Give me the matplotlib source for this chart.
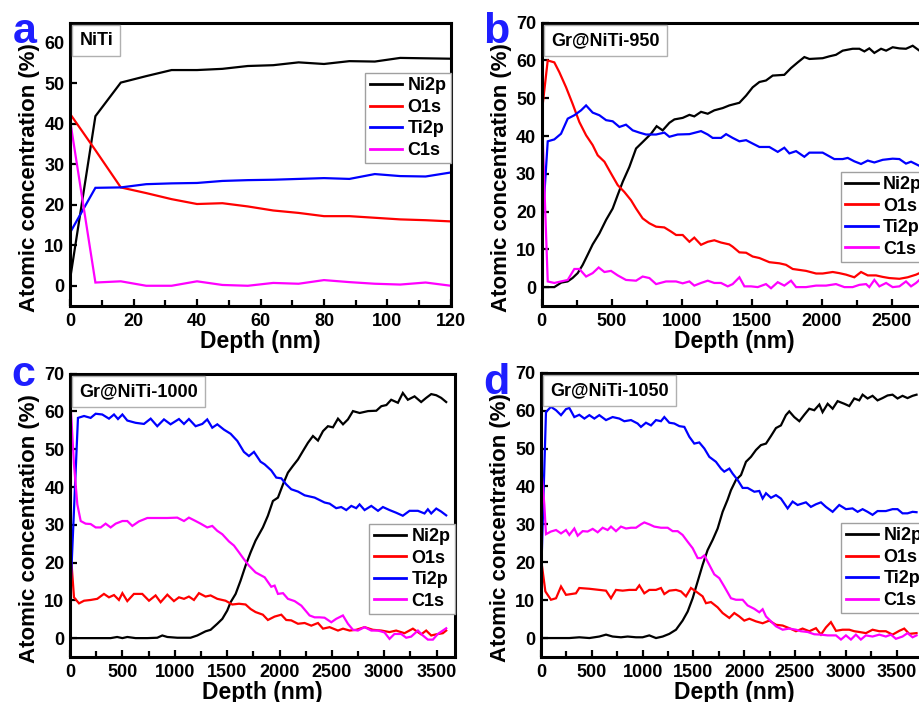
import matplotlib
matplotlib.use('Agg')
import matplotlib.pyplot as plt
from matplotlib.offsetbox import AnchoredText
from matplotlib.ticker import MultipleLocator

plt.rcParams['font.family'] = ['Liberation Sans', 'DejaVu Sans']
plt.rcParams['font.weight'] = 'bold'
plt.rcParams['axes.labelweight'] = 'bold'

series_names = ['Ni2p', 'O1s', 'Ti2p', 'C1s']
series_colors = ['#000000', '#ff0000', '#0000ff', '#ff00ff']

# ---------------- panel a : NiTi ----------------
a_depth = [0, 8, 16, 24, 32, 40, 48, 56, 64, 72, 80, 88, 96, 104, 112, 120]
a_ni = [1.5, 41.9, 50.2, 51.8, 53.3, 53.3, 53.6, 54.3, 54.5, 55.2, 54.8, 55.5, 55.4, 56.3, 56.2, 56.1]
a_o = [42.5, 33.5, 24.3, 22.9, 21.4, 20.2, 20.4, 19.6, 18.6, 18.0, 17.2, 17.2, 16.8, 16.4, 16.2, 15.9]
a_ti = [13.1, 24.2, 24.3, 25.1, 25.3, 25.4, 25.9, 26.1, 26.2, 26.4, 26.6, 26.4, 27.6, 27.1, 27.0, 28.0]
a_c = [41.0, 0.8, 1.1, 0.0, 0.0, 1.1, 0.2, 0.0, 0.7, 0.5, 1.4, 0.9, 0.5, 0.3, 0.8, 0.0]

# ---------------- panel b : Gr@NiTi-950 ----------------
b_ni_x = [0, 90, 140, 185, 220, 257, 293, 330, 364, 412, 460, 507, 543, 579, 626, 674, 721, 781, 821, 864,
          912, 948, 1007, 1055, 1090, 1138, 1186, 1233, 1293, 1340, 1412, 1460, 1507, 1555, 1602, 1650, 1733,
          1781, 1829, 1876, 1912, 2007, 2055, 2102, 2150, 2221, 2269, 2305, 2340, 2376, 2424, 2460, 2507,
          2555, 2602, 2650, 2698]
b_ni_y = [0, 0, 1.2, 1.5, 2.4, 3.7, 5.9, 8.7, 11.3, 14.2, 17.8, 20.8, 24.4, 27.9, 31.8, 36.7, 38.4, 40.6, 42.6,
          41.5, 43.5, 44.4, 44.8, 45.6, 45.2, 46.4, 45.9, 46.8, 47.4, 48.1, 48.8, 50.7, 52.9, 54.3, 54.7, 56.0,
          56.2, 58.0, 59.5, 60.9, 60.4, 60.6, 61.1, 61.5, 62.6, 63.1, 63.1, 62.4, 63.2, 62.0, 63.1, 62.6, 63.5,
          63.2, 63.1, 63.9, 62.6]
b_o_x = [0, 43, 90, 126, 174, 221, 269, 317, 364, 400, 448, 495, 543, 590, 638, 674, 721, 769, 817, 876, 924,
         960, 1007, 1055, 1090, 1138, 1186, 1233, 1281, 1340, 1364, 1412, 1460, 1507, 1555, 1626, 1698, 1745,
         1793, 1888, 1960, 2007, 2079, 2126, 2174, 2233, 2281, 2329, 2388, 2436, 2483, 2555, 2614, 2674, 2698]
b_o_y = [46, 60, 59.5, 56.9, 52.9, 48.5, 43.7, 40.2, 37.6, 34.9, 33.2, 30.1, 27.0, 25.2, 23.0, 20.8, 18.2, 16.9,
         16.0, 15.8, 14.7, 13.8, 13.8, 12.0, 13.1, 11.2, 12.0, 12.4, 11.8, 11.3, 10.7, 9.2, 9.1, 8.1, 7.7, 6.6,
         6.3, 5.9, 4.8, 4.3, 3.6, 3.6, 4.0, 3.7, 3.3, 2.6, 4.0, 3.1, 3.1, 2.7, 2.4, 2.2, 2.6, 3.3, 3.7]
b_ti_x = [0, 43, 90, 138, 186, 233, 281, 317, 364, 412, 460, 507, 555, 602, 650, 698, 745, 817, 876, 912, 971,
          1055, 1138, 1186, 1221, 1281, 1317, 1364, 1412, 1460, 1507, 1555, 1626, 1686, 1733, 1769, 1817, 1876,
          1912, 2007, 2090, 2150, 2186, 2233, 2281, 2329, 2376, 2436, 2507, 2555, 2602, 2638, 2698]
b_ti_y = [13.4, 38.6, 39.1, 40.6, 44.6, 45.5, 46.8, 48.1, 46.2, 45.5, 44.2, 43.9, 42.4, 43.0, 41.5, 40.9, 40.4,
          40.4, 40.9, 39.8, 40.4, 40.5, 41.3, 40.4, 39.5, 39.5, 40.5, 39.5, 38.6, 38.9, 38.0, 37.1, 37.1, 35.8,
          36.9, 35.4, 36.0, 34.5, 35.6, 35.6, 33.9, 33.9, 34.2, 33.3, 32.6, 33.5, 33.0, 33.7, 34.0, 33.9, 32.7,
          33.2, 32.1]
b_c_x = [0, 43, 90, 138, 186, 233, 269, 317, 364, 407, 448, 495, 543, 602, 674, 721, 769, 817, 888, 960, 1007,
         1055, 1090, 1138, 1186, 1233, 1281, 1329, 1364, 1412, 1448, 1495, 1543, 1602, 1638, 1686, 1733, 1781,
         1817, 1888, 1960, 2031, 2102, 2162, 2221, 2269, 2317, 2340, 2376, 2412, 2460, 2507, 2555, 2602, 2638,
         2674, 2698]
b_c_y = [47, 1.5, 1.1, 1.5, 1.9, 4.8, 4.8, 2.8, 3.7, 5.2, 4.0, 4.3, 3.1, 1.9, 1.7, 2.8, 2.4, 0.8, 1.5, 1.5, 1.0,
         1.5, 0.4, 1.1, 1.7, 1.1, 1.1, 0.2, 0.8, 2.6, 0.2, 0.2, 0.0, 0.8, -0.3, 1.3, 0.4, 1.7, 0.0, 0.0, 0.4,
         0.4, 0.8, 0.0, 0.0, 0.6, 0.8, 0.0, 1.9, 0.2, 1.1, 0.0, 0.2, 1.5, 0.2, 1.1, 1.9]

# ---------------- panel c : Gr@NiTi-1000 ----------------
c_ni_x = [0, 134, 260, 388, 450, 500, 547, 626, 738, 833, 881, 929, 1024, 1151, 1215, 1294, 1342, 1406, 1454,
          1501, 1533, 1581, 1628, 1676, 1724, 1771, 1841, 1889, 1937, 1985, 2033, 2080, 2128, 2176, 2223, 2271,
          2319, 2367, 2415, 2462, 2510, 2558, 2606, 2653, 2701, 2765, 2845, 2924, 2972, 3020, 3066, 3130, 3177,
          3225, 3289, 3352, 3400, 3448, 3496, 3543, 3591]
c_ni_y = [0, 0, 0, 0, 0.3, 0, 0.3, 0, 0, 0.1, 0.7, 0.3, 0.1, 0.1, 0.7, 1.8, 2.2, 3.8, 5.1, 7.3, 9.5, 11.7, 15.2,
          19.2, 22.7, 25.8, 29.3, 32.4, 36.3, 37.2, 40.7, 43.8, 45.6, 47.3, 49.5, 51.7, 53.5, 52.3, 54.8, 56.1,
          55.8, 58.1, 56.6, 57.9, 60.1, 59.6, 60.1, 60.2, 61.4, 61.7, 63.1, 62.3, 64.9, 63.1, 64.0, 62.5, 63.6,
          64.6, 64.3, 63.6, 62.5]
c_o_x = [0, 38, 86, 134, 197, 260, 324, 372, 420, 467, 500, 547, 610, 690, 754, 817, 865, 929, 992, 1040, 1088,
         1135, 1183, 1231, 1294, 1342, 1406, 1485, 1549, 1613, 1676, 1724, 1771, 1841, 1889, 1953, 2017, 2064,
         2112, 2176, 2240, 2303, 2367, 2415, 2478, 2558, 2606, 2669, 2732, 2812, 2891, 2972, 3050, 3113, 3193,
         3273, 3352, 3400, 3448, 3496, 3559, 3591]
c_o_y = [25.3, 10.8, 9.2, 9.9, 10.1, 10.4, 11.7, 10.8, 11.4, 10.1, 11.9, 9.8, 11.7, 11.7, 9.9, 11.3, 9.5, 11.5,
         9.8, 10.8, 10.4, 11.0, 10.1, 11.9, 11.0, 11.3, 10.4, 9.9, 8.9, 9.1, 8.9, 7.7, 6.9, 6.2, 4.8, 5.7, 6.2,
         4.8, 4.7, 3.8, 4.0, 3.3, 4.0, 2.5, 2.9, 2.0, 2.5, 2.0, 2.2, 2.9, 2.2, 2.0, 1.6, 2.0, 1.3, 2.5, 1.0, 2.0,
         0.7, 1.0, 1.3, 2.0]
c_ti_x = [0, 76, 134, 197, 245, 308, 372, 420, 458, 500, 547, 626, 706, 770, 833, 897, 960, 1040, 1088, 1135,
          1199, 1263, 1310, 1358, 1406, 1469, 1533, 1597, 1660, 1708, 1756, 1819, 1858, 1921, 1969, 2017, 2064,
          2112, 2176, 2240, 2335, 2430, 2478, 2541, 2589, 2637, 2685, 2732, 2764, 2812, 2876, 2940, 2987, 3050,
          3113, 3177, 3241, 3321, 3384, 3416, 3448, 3496, 3543, 3591]
c_ti_y = [9.5, 58.3, 58.8, 58.3, 59.4, 59.2, 58.1, 59.2, 58.0, 59.2, 57.6, 57.0, 56.7, 58.1, 56.1, 57.9, 56.6,
          58.0, 56.7, 58.0, 56.1, 56.7, 57.9, 55.7, 56.6, 55.2, 54.1, 52.2, 49.3, 48.2, 49.3, 46.7, 46.0, 44.4,
          42.5, 42.3, 40.7, 39.4, 38.8, 37.8, 37.2, 35.9, 35.6, 34.4, 34.7, 33.9, 35.0, 34.4, 35.4, 33.9, 35.0,
          33.7, 34.7, 33.9, 33.2, 32.4, 33.7, 33.7, 33.0, 34.1, 33.0, 34.3, 33.5, 32.5]
c_c_x = [0, 38, 70, 102, 149, 197, 245, 293, 340, 388, 436, 500, 547, 595, 658, 738, 833, 929, 1024, 1088, 1135,
         1199, 1247, 1310, 1358, 1406, 1454, 1517, 1565, 1613, 1660, 1708, 1771, 1858, 1921, 1953, 1985, 2033,
         2080, 2144, 2208, 2287, 2335, 2383, 2430, 2494, 2541, 2605, 2653, 2701, 2748, 2812, 2876, 2940, 3002,
         3050, 3097, 3161, 3209, 3257, 3321, 3368, 3416, 3464, 3511, 3559, 3591]
c_c_y = [64.5, 46, 35.4, 31.0, 30.3, 30.2, 29.3, 29.3, 30.3, 29.3, 30.3, 31.0, 31.0, 29.7, 30.9, 31.8, 31.8,
         31.8, 31.9, 31.0, 31.9, 31.0, 30.3, 29.3, 29.7, 28.4, 27.5, 25.6, 24.5, 22.7, 20.9, 19.2, 17.4, 16.1,
         13.6, 13.9, 11.7, 11.9, 10.4, 9.8, 8.6, 6.0, 5.5, 5.5, 5.4, 4.2, 5.1, 6.0, 3.8, 2.2, 2.0, 2.9, 2.0, 2.0,
         1.5, -0.2, 1.1, 1.1, 0.1, 0.4, 2.0, 0.7, -0.4, -0.4, 1.1, 2.0, 2.6]

# ---------------- panel d : Gr@NiTi-1050 ----------------
d_ni_x = [0, 148, 279, 377, 476, 574, 640, 705, 787, 853, 935, 1000, 1066, 1132, 1198, 1263, 1329, 1394, 1444,
          1493, 1542, 1591, 1640, 1690, 1739, 1788, 1837, 1870, 1919, 1969, 2018, 2067, 2116, 2165, 2215, 2264,
          2313, 2362, 2411, 2444, 2493, 2543, 2592, 2641, 2690, 2740, 2772, 2822, 2871, 2920, 2986, 3035, 3084,
          3133, 3166, 3215, 3264, 3313, 3362, 3412, 3461, 3510, 3559, 3608, 3658, 3697]
d_ni_y = [0, 0, 0, 0.2, 0, 0.4, 0.9, 0.4, 0.2, 0.4, 0.2, 0.2, 0.7, 0, 0.4, 1.1, 2.2, 4.6, 7.0, 10.5, 14.9, 19.3,
          23.2, 25.9, 28.9, 33.3, 36.5, 39.0, 41.7, 43.0, 46.5, 47.8, 49.6, 50.9, 51.3, 53.3, 55.4, 56.1, 58.8,
          59.8, 58.3, 57.2, 58.9, 60.5, 60.1, 61.6, 59.6, 61.8, 60.5, 62.5, 61.8, 61.2, 63.2, 62.7, 64.2, 63.2,
          63.9, 62.7, 63.3, 64.0, 64.2, 63.2, 63.9, 63.3, 63.9, 64.2]
d_o_x = [0, 43, 98, 148, 197, 246, 295, 344, 377, 476, 574, 640, 689, 738, 804, 869, 935, 968, 1017, 1066, 1132,
         1181, 1214, 1263, 1329, 1378, 1427, 1476, 1525, 1591, 1624, 1673, 1739, 1788, 1854, 1903, 1952, 2001,
         2051, 2116, 2182, 2247, 2313, 2379, 2444, 2510, 2575, 2641, 2707, 2756, 2805, 2854, 2904, 2969, 3035,
         3084, 3133, 3199, 3264, 3330, 3395, 3461, 3527, 3576, 3625, 3697]
d_o_y = [21.0, 12.3, 10.1, 10.5, 13.6, 11.4, 11.6, 11.8, 13.2, 13.0, 12.7, 12.5, 10.5, 12.7, 12.5, 12.7, 12.7,
         13.9, 11.8, 12.7, 12.7, 13.2, 11.6, 12.5, 12.7, 12.3, 11.0, 13.2, 12.3, 11.0, 9.2, 9.5, 8.1, 6.6, 5.3,
         6.6, 5.7, 4.6, 5.1, 4.4, 3.9, 4.6, 3.5, 3.3, 2.6, 1.8, 2.5, 1.8, 2.6, 0.9, 2.8, 4.2, 1.9, 2.2, 2.2, 1.8,
         1.6, 1.3, 2.2, 1.8, 1.8, 0.9, 1.9, 2.5, 1.1, 1.3]
d_ti_x = [0, 49, 98, 148, 197, 246, 279, 328, 377, 427, 476, 525, 574, 640, 705, 771, 820, 886, 951, 984, 1033,
          1083, 1132, 1181, 1214, 1263, 1312, 1362, 1411, 1460, 1509, 1558, 1608, 1657, 1722, 1772, 1804, 1854,
          1886, 1936, 1985, 2034, 2100, 2149, 2182, 2215, 2264, 2313, 2362, 2428, 2477, 2526, 2608, 2657, 2707,
          2756, 2805, 2871, 2936, 3002, 3067, 3117, 3166, 3215, 3264, 3313, 3395, 3461, 3510, 3559, 3608, 3658,
          3697]
d_ti_y = [14.9, 59.6, 61.0, 60.1, 58.8, 60.4, 60.7, 58.3, 58.9, 57.9, 58.8, 57.9, 58.8, 57.5, 58.3, 57.9, 57.2,
          57.5, 56.6, 55.7, 56.8, 56.1, 57.5, 57.2, 58.3, 56.8, 56.6, 55.9, 55.7, 53.1, 51.3, 51.6, 50.0, 47.8,
          46.5, 44.7, 43.9, 44.7, 43.4, 41.7, 39.6, 39.6, 38.6, 38.8, 36.8, 38.2, 37.0, 37.7, 36.8, 34.2, 36.0,
          35.1, 35.8, 34.6, 35.3, 35.8, 34.6, 33.3, 35.1, 34.0, 34.2, 33.3, 34.0, 33.3, 32.5, 33.5, 33.5, 34.0,
          34.0, 32.9, 32.9, 33.3, 33.2]
d_c_x = [0, 33, 49, 98, 148, 197, 246, 279, 328, 361, 410, 459, 509, 558, 607, 656, 689, 738, 787, 837, 886, 935,
         984, 1017, 1066, 1115, 1181, 1247, 1296, 1345, 1394, 1444, 1493, 1542, 1575, 1608, 1657, 1706, 1755,
         1804, 1870, 1919, 1985, 2034, 2100, 2149, 2182, 2215, 2264, 2313, 2379, 2444, 2510, 2559, 2625, 2690,
         2756, 2822, 2904, 2953, 3002, 3051, 3100, 3149, 3198, 3264, 3330, 3395, 3445, 3494, 3559, 3608, 3658,
         3697]
d_c_y = [45.6, 35.1, 27.4, 28.1, 28.5, 27.6, 28.5, 27.2, 28.9, 27.0, 28.2, 28.1, 28.8, 27.9, 29.1, 28.5, 29.4,
         28.2, 29.4, 28.9, 29.1, 29.1, 30.0, 30.5, 30.0, 29.4, 29.1, 29.1, 28.2, 28.2, 27.2, 25.4, 23.7, 21.1,
         21.1, 21.8, 19.3, 16.8, 15.8, 13.6, 10.5, 10.1, 10.1, 8.6, 7.7, 6.8, 7.6, 5.7, 4.4, 3.1, 2.2, 2.5, 2.2,
         1.8, 1.6, 1.0, 0.9, 0.7, 0.7, -0.4, 0.7, -0.4, 0.9, -0.4, 0.7, 0.4, 0.9, 0.4, 0.9, -0.2, 0.4, 1.3, 0.2,
         0.7]

panel_letters = ['a', 'b', 'c', 'd']
panel_titles = ['NiTi', 'Gr@NiTi-950', 'Gr@NiTi-1000', 'Gr@NiTi-1050']

W, H = 920, 702
fig = plt.figure(figsize=(W / 100, H / 100), dpi=100)


def px_axes(left, top, width, height):
    return fig.add_axes([left / W, 1 - (top + height) / H, width / W, height / H])


panels = [
    dict(rect=(70, 22.7, 381, 283.3), xlim=(0, 120), ylim=(-5, 65), xmaj=20, xmin=10, ymax_tick=60,
         data=[(a_depth, a_ni), (a_depth, a_o), (a_depth, a_ti), (a_depth, a_c)], leg_top=0.823,
         letter=(12.7, 43.3)),
    dict(rect=(541.7, 22.7, 385, 283.3), xlim=(0, 2750), ylim=(-5, 70), xmaj=500, xmin=250, ymax_tick=70,
         data=[(b_ni_x, b_ni_y), (b_o_x, b_o_y), (b_ti_x, b_ti_y), (b_c_x, b_c_y)], leg_top=0.474,
         letter=(483, 43.3)),
    dict(rect=(70, 373.7, 385, 283.3), xlim=(0, 3675), ylim=(-5, 70), xmaj=500, xmin=250, ymax_tick=70,
         data=[(c_ni_x, c_ni_y), (c_o_x, c_o_y), (c_ti_x, c_ti_y), (c_c_x, c_c_y)], leg_top=0.4705,
         letter=(11.7, 386)),
    dict(rect=(541, 372.7, 386, 284.3), xlim=(0, 3800), ylim=(-5, 70), xmaj=500, xmin=250, ymax_tick=70,
         data=[(d_ni_x, d_ni_y), (d_o_x, d_o_y), (d_ti_x, d_ti_y), (d_c_x, d_c_y)], leg_top=0.472,
         letter=(483, 393.7)),
]

for i, p in enumerate(panels):
    ax = px_axes(*p['rect'])
    for (xs, ys), name, col in zip(p['data'], series_names, series_colors):
        ax.plot(xs, ys, color=col, lw=1.6, label=name, solid_joinstyle='miter')
    ax.set_xlim(*p['xlim'])
    ax.set_ylim(*p['ylim'])
    ax.xaxis.set_major_locator(MultipleLocator(p['xmaj']))
    ax.xaxis.set_minor_locator(MultipleLocator(p['xmin']))
    ax.set_yticks(list(range(0, p['ymax_tick'] + 1, 10)))
    for sp in ax.spines.values():
        sp.set_linewidth(2.2)
    ax.tick_params(axis='both', which='major', direction='in', length=5, width=1.6,
                   labelsize=13, top=False, right=False)
    ax.tick_params(axis='x', which='major', pad=5)
    ax.tick_params(axis='y', which='major', pad=4)
    ax.tick_params(axis='x', which='minor', direction='in', length=4, width=1.6, top=False)
    ax.tick_params(axis='y', which='minor', left=False, right=False)
    for lab in ax.get_xticklabels() + ax.get_yticklabels():
        lab.set_fontweight('bold')
    ax.set_xlabel('Depth (nm)', fontsize=16.5, fontweight='bold', labelpad=0)
    ax.set_ylabel('Atomic concentration (%)', fontsize=16, fontweight='bold')
    ax.yaxis.set_label_coords(-0.078, 0.455)

    leg = ax.legend(loc='upper right', bbox_to_anchor=(1.0, p['leg_top']), borderaxespad=0,
                    fontsize=13, handlelength=1.8, handletextpad=0.3, labelspacing=0.25,
                    borderpad=0.25, fancybox=False, framealpha=1, edgecolor='#a0a0a0')
    leg.get_frame().set_linewidth(1.0)
    for t in leg.get_texts():
        t.set_fontweight('bold')
    for h in leg.legend_handles:
        h.set_linewidth(2.0)

    at = AnchoredText(panel_titles[i], loc='upper left', frameon=True, pad=0.4, borderpad=0.12,
                      prop=dict(size=13, weight='bold'))
    at.patch.set_edgecolor('#b0b0b0')
    at.patch.set_linewidth(1.0)
    at.patch.set_boxstyle('square,pad=0')
    ax.add_artist(at)

    lx, ly = p['letter']
    fig.text(lx / W, 1 - ly / H, panel_letters[i], color='#1e1eff', fontsize=31,
             fontweight='bold', ha='left', va='baseline')

fig.savefig('out.png', dpi=100)
